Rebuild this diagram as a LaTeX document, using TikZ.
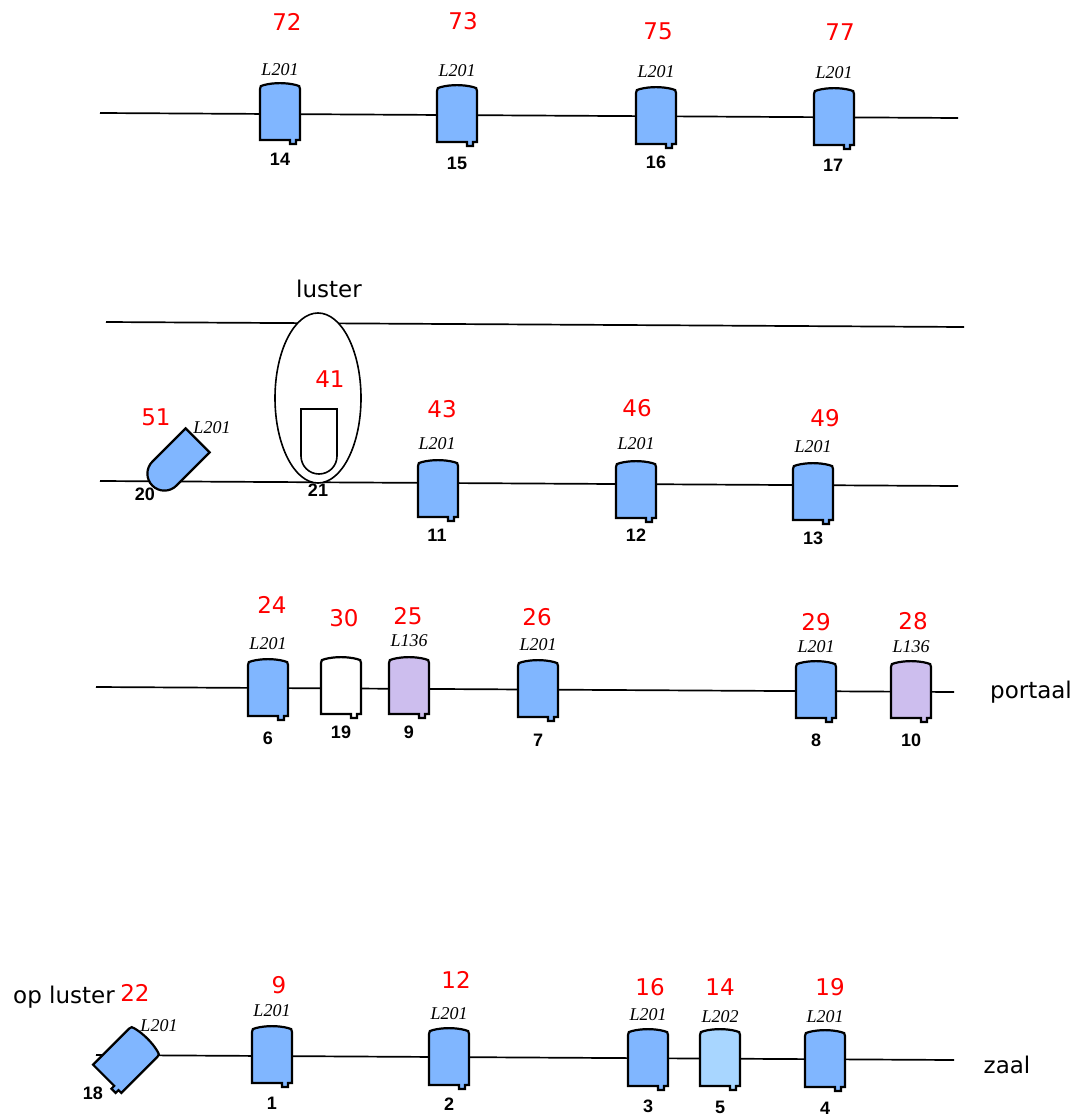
\documentclass[tikz,border=0pt]{standalone}
\usepackage{fontspec}
\setmainfont{Liberation Serif}
\newfontfamily\placefont{DejaVu Sans}
\newfontfamily\numfont{Liberation Sans}

\definecolor{lampblue}{RGB}{128,182,255}
\definecolor{lamplight}{RGB}{168,214,255}
\definecolor{lamplilac}{RGB}{205,190,238}

\tikzset{
	wire/.style={line width=1.7pt},
	ring/.style={line width=1.6pt},
	lampline/.style={line width=2.2pt},
	gel/.style={font=\fontsize{18}{20}\selectfont\itshape, inner sep=0pt},
	level/.style={font=\placefont\fontsize{23}{26}\selectfont, text=red, inner sep=0pt},
	lampnum/.style={font=\numfont\bfseries\fontsize{18}{20}\selectfont, inner sep=0pt},
	place/.style={font=\placefont\fontsize{23}{26}\selectfont, inner sep=0pt, anchor=base},
	pics/lamp/.style={code={
		\draw[lampline, fill=#1] (-20,28) -- (10,28) -- (10,32) -- (16,32) -- (16,28) -- (20,28) -- (20,-23)
			.. controls (20,-26) and (19,-26.5) .. (16,-27)
			.. controls (6,-29.5) and (-6,-29.5) .. (-16,-27)
			.. controls (-19,-26.5) and (-20,-26) .. (-20,-23) -- cycle;
	}}
}

\begin{document}
\begin{tikzpicture}[x=1pt,y=-1pt]

	\useasboundingbox (0,0) rectangle (1082,1116);

	\coordinate (w1a) at (100,113);
	\coordinate (w1b) at (958,118);
	\coordinate (w2a) at (106,322);
	\coordinate (w2b) at (964,327);
	\coordinate (w3a) at (100,481);
	\coordinate (w3b) at (958,486);
	\coordinate (w4a) at (96,687);
	\coordinate (w4b) at (954,692);
	\coordinate (w5a) at (96,1055);
	\coordinate (w5b) at (954,1060);

	\draw[wire] (w1a) -- (w1b);
	\draw[wire] (w2a) -- (w2b);
	\draw[wire] (w3a) -- (w3b);
	\draw[wire] (w4a) -- (w4b);
	\draw[wire] (w5a) -- (w5b);

	\draw[ring, fill=white] (318,398) ellipse (43 and 85);
	\draw[ring] (301,409) -- (337,409) -- (337,456) .. controls (337,466) and (329,474) .. (319,474) .. controls (309,474) and (301,466) .. (301,456) -- cycle;

	\begin{scope}[shift={(175,463)}, rotate=-45]
		\draw[lampline, fill=lampblue] (-17,-32) -- (17,-32) -- (17,15) .. controls (17,24.4) and (9.4,32) .. (0,32) .. controls (-9.4,32) and (-17,24.4) .. (-17,15) -- cycle;
	\end{scope}

	\foreach \x/\y/\col in {280/112/lampblue, 457/114/lampblue, 656/116/lampblue, 834/117/lampblue,
		438/489/lampblue, 636/490/lampblue, 813/492/lampblue,
		268/688/lampblue, 341/686/white, 409/686/lamplilac, 538/689/lampblue, 816/690/lampblue, 911/690/lamplilac,
		272/1055/lampblue, 449/1057/lampblue, 648/1058/lampblue, 720/1058/lamplight, 825/1059/lampblue}
		\pic at (\x,\y) {lamp=\col};

	\node[gel] (g18) at (159,1026) {L201};
	\pic[rotate=-45] at (127,1059) {lamp=lampblue};

	\foreach \x/\y/\g [count=\i] in {280/70/L201, 457/71/L201, 656/72/L201, 834/73/L201,
		212/428/L201, 437/444/L201, 636/444/L201, 813/447/L201,
		268/644/L201, 409/641/L136, 538/645/L201, 816/647/L201, 911/647/L136,
		272/1011/L201, 449/1014/L201, 648/1015/L201, 720/1017/L202, 825/1017/L201}
		\node[gel] (g\i) at (\x,\y) {\g};

	\foreach \x/\y/\v [count=\i] in {287/22/72, 463/21/73, 658/31/75, 840/32/77,
		330/379/41, 156/417/51, 442/409/43, 637/408/46, 825/418/49,
		272/605/24, 344/618/30, 408/616/25, 537/617/26, 816/622/29, 913/621/28,
		135/993/22, 279/985/9, 456/980/12, 650/987/16, 720/987/14, 830/987/19}
		\node[level] (v\i) at (\x,\y) {\v};

	\foreach \x/\y/\nr in {280/159/14, 457/163/15, 656/162/16, 833/165/17,
		145/494/20, 318/490/21, 437/535/11, 636/535/12, 813/538/13,
		268/738/6, 341/732/19, 409/732/9, 538/740/7, 816/740/8, 911/740/10,
		93/1093/18, 272/1103/1, 449/1104/2, 648/1106/3, 720/1107/5, 825/1108/4}
		\node[lampnum] (n\nr) at (\x,\y) {\nr};

	\node[place] (luster) at (329,297) {luster};
	\node[place] (portaal) at (1031,698) {portaal};
	\node[place] (zaal) at (1007,1073) {zaal};
	\node[place] (opluster) at (64,1003) {op luster};

\end{tikzpicture}
\end{document}
